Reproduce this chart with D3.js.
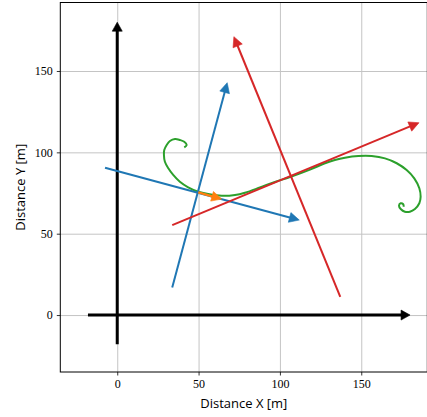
<!DOCTYPE html>
<html>
<head>
<meta charset="utf-8">
<script src="https://cdn.jsdelivr.net/npm/d3@7"></script>
<style>
  html, body { margin: 0; padding: 0; background: #fff; }
  svg { display: block; }
  .tick text { font-family: "Liberation Serif", serif; font-size: 12px; fill: #000; }
  .lbl { font-family: "Open Sans", "DejaVu Sans", sans-serif; font-size: 13px; fill: #000; }
</style>
</head>
<body>
<svg id="chart" width="427" height="417"></svg>
<script>
// Axis limits (metres)
const xDomain = [-35, 190.6];
const yDomain = [-35, 192.1];
const xTicks = [0, 50, 100, 150];
const yTicks = [0, 50, 100, 150];

// Coordinate axes drawn as arrows: start and tip
const axisArrowX0 = [-18, 0];
const axisArrowY0 = [0, -18];
const axisArrowX1 = [180, 0];
const axisArrowY1 = [0, 180];

// Blue vectors
const blueX0 = [-7.5, 33.8];
const blueY0 = [90.5, 17.0];
const blueX1 = [111.9, 67.6];
const blueY1 = [58.4, 142.8];

// Red vectors
const redX0 = [137.1, 33.8];
const redY0 = [11.2, 55.3];
const redX1 = [71.7, 185.5];
const redY1 = [171.1, 118.2];

// Orange vector
const orangeX0 = [49.8];
const orangeY0 = [75.4];
const orangeX1 = [64.2];
const orangeY1 = [71.3];

// Green path (spiral-ended curve)
const greenX = [41.2, 42.7, 41.2, 38.5, 35.5, 32.4, 30.4, 28.9, 28.7, 29.3, 31.4, 34.4, 38.5, 43.6,
  49.8, 55.9, 64.2, 72.4, 78.5, 87.7, 96.9, 106.2, 118.5, 127.7, 133.8, 140.0, 148.2, 156.4,
  164.6, 171.8, 177.9, 182.6, 185.7, 186.5, 185.7, 183.0, 179.9, 176.8, 174.4, 173.2, 174.2, 175.8, 176.1];
const greenY = [103.1, 104.5, 106.5, 107.6, 108.2, 107.0, 104.5, 101.4, 98.4, 94.2, 90.2, 86.1, 81.9, 78.5,
  75.8, 74.4, 73.3, 73.8, 75.2, 78.4, 81.8, 84.8, 89.4, 93.3, 95.3, 96.7, 97.7, 97.7,
  96.3, 93.3, 89.1, 84.0, 77.9, 72.7, 68.7, 65.2, 63.5, 63.5, 65.0, 67.2, 68.7, 68.1, 66.6];

const svg = d3.select("#chart");
const plotLeft = 60.3, plotRight = 427.3, plotTop = 2.5, plotBottom = 372;

const x = d3.scaleLinear().domain(xDomain).range([plotLeft, plotRight]);
const y = d3.scaleLinear().domain(yDomain).range([plotBottom, plotTop]);

// Grid
const grid = svg.append("g");
grid.append("g")
  .attr("transform", `translate(0,${plotBottom})`)
  .call(d3.axisBottom(x).tickValues(xTicks).tickSize(-(plotBottom - plotTop)).tickFormat(""))
  .call(g => g.select(".domain").remove())
  .call(g => g.selectAll("line").attr("stroke", "#c4c4c4").attr("stroke-width", 1));
grid.append("g")
  .attr("transform", `translate(${plotLeft},0)`)
  .call(d3.axisLeft(y).tickValues(yTicks).tickSize(-(plotRight - plotLeft)).tickFormat(""))
  .call(g => g.select(".domain").remove())
  .call(g => g.selectAll("line").attr("stroke", "#c4c4c4").attr("stroke-width", 1));

// Arrow drawing helper (head size in pixels)
function drawArrows(g, xs0, ys0, xs1, ys1, color, lw, hl, hw) {
  for (let i = 0; i < xs0.length; i++) {
    const px0 = x(xs0[i]), py0 = y(ys0[i]);
    const px1 = x(xs1[i]), py1 = y(ys1[i]);
    const dx = px1 - px0, dy = py1 - py0;
    const len = Math.hypot(dx, dy);
    const ux = dx / len, uy = dy / len;
    const nx = -uy, ny = ux;
    const bx = px1 - ux * hl, by = py1 - uy * hl;
    g.append("line")
      .attr("x1", px0).attr("y1", py0)
      .attr("x2", bx + ux * 1).attr("y2", by + uy * 1)
      .attr("stroke", color).attr("stroke-width", lw);
    g.append("path")
      .attr("d", `M${px1},${py1}L${bx + nx * hw / 2},${by + ny * hw / 2}L${bx - nx * hw / 2},${by - ny * hw / 2}Z`)
      .attr("fill", color).attr("stroke", color).attr("stroke-width", 0.6);
  }
}

const marks = svg.append("g");
drawArrows(marks, axisArrowX0, axisArrowY0, axisArrowX1, axisArrowY1, "#000", 3, 9, 10);

// Green curve
const greenPts = greenX.map((v, i) => [v, greenY[i]]);
marks.append("path")
  .attr("d", d3.line().x(d => x(d[0])).y(d => y(d[1])).curve(d3.curveCatmullRom.alpha(0.5))(greenPts))
  .attr("fill", "none").attr("stroke", "#2ca02c").attr("stroke-width", 2);

drawArrows(marks, blueX0, blueY0, blueX1, blueY1, "#1f77b4", 2, 10, 10);
drawArrows(marks, redX0, redY0, redX1, redY1, "#d62728", 2, 10, 10);
drawArrows(marks, orangeX0, orangeY0, orangeX1, orangeY1, "#ff7f0e", 2.5, 10, 10);

// Axes with outward ticks
svg.append("g")
  .attr("transform", `translate(0,${plotBottom})`)
  .call(d3.axisBottom(x).tickValues(xTicks).tickSize(3.5).tickPadding(4).tickFormat(d3.format("d")))
  .call(g => g.select(".domain").remove())
  .call(g => g.selectAll("line").attr("stroke", "#000").attr("stroke-width", 0.8));
svg.append("g")
  .attr("transform", `translate(${plotLeft},0)`)
  .call(d3.axisLeft(y).tickValues(yTicks).tickSize(3.5).tickPadding(4).tickFormat(d3.format("d")))
  .call(g => g.select(".domain").remove())
  .call(g => g.selectAll("line").attr("stroke", "#000").attr("stroke-width", 0.8));

// Frame
svg.append("rect")
  .attr("x", plotLeft).attr("y", plotTop)
  .attr("width", plotRight - plotLeft).attr("height", plotBottom - plotTop)
  .attr("fill", "none").attr("stroke", "#000").attr("stroke-width", 1);

// Axis titles
svg.append("text").attr("class", "lbl")
  .attr("x", (plotLeft + plotRight) / 2).attr("y", 408)
  .attr("text-anchor", "middle")
  .text("Distance X [m]");
svg.append("text").attr("class", "lbl")
  .attr("transform", `translate(25,${(plotTop + plotBottom) / 2}) rotate(-90)`)
  .attr("text-anchor", "middle")
  .text("Distance Y [m]");
</script>
</body>
</html>
